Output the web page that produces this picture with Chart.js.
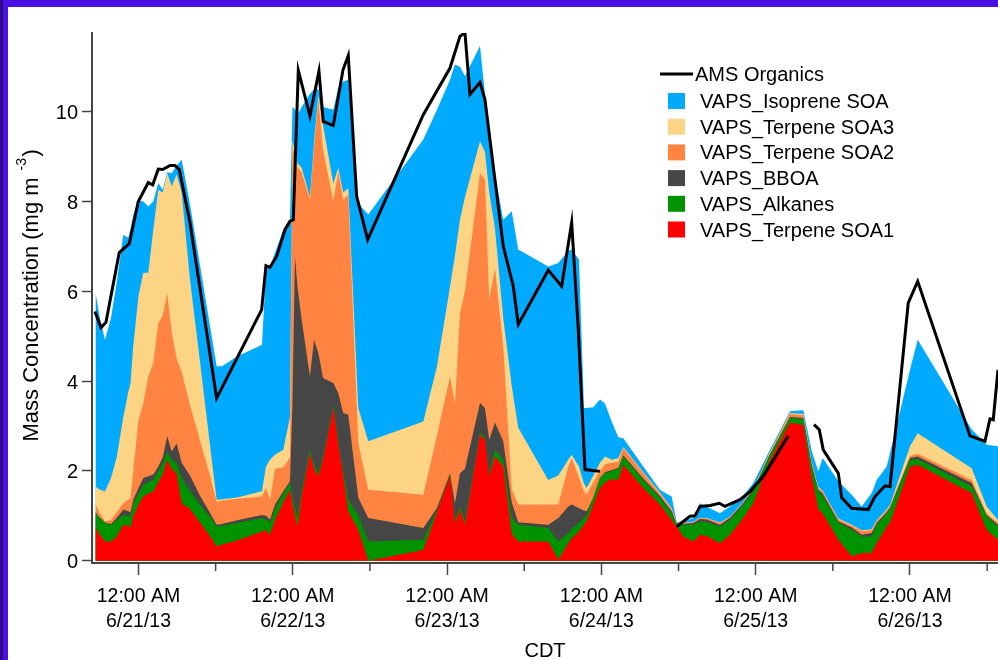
<!DOCTYPE html>
<html>
<head>
<meta charset="utf-8">
<title>VAPS vs AMS organics</title>
<script src="https://cdn.jsdelivr.net/npm/chart.js@4.4.1/dist/chart.umd.min.js"></script>
<style>
  html, body { margin: 0; padding: 0; background: #fff; overflow: hidden; }
  #wrap { position: relative; width: 998px; height: 660px; }
  #chart { position: absolute; left: 0; top: 0; }
  .frame-top { position: absolute; left: 0; top: 0; width: 998px; height: 7px; background: #4b10e2; }
  .frame-left { position: absolute; left: 0; top: 0; width: 8px; height: 660px;
    background: linear-gradient(to right, #2c0b8e 0, #2c0b8e 3px, #4b10e2 3px); }
</style>
</head>
<body>
<div id="wrap">
  <canvas id="chart" width="998" height="660"></canvas>
  <div class="frame-top"></div>
  <div class="frame-left"></div>
</div>
<script>
// hours since 12:00 AM 6/21/13 (CDT)
const hours = [-6.69, -5.99, -5.21, -4.28, -3.39, -2.36, -1.59, -1.24, -0.81, 0,
  0.75, 1.52, 2.30, 3.08, 3.76, 4.48, 5.16, 5.94, 6.72, 8.01,
  9.57, 11.12, 12.16, 12.99, 15.32, 19.21, 19.83, 20.45, 21.23, 22.52,
  23.56, 23.95, 24.34, 24.73, 25.38, 26.67, 27.30, 27.97, 28.70, 30.30,
  31.08, 31.85, 32.63, 34.19, 35.74, 44.30, 46.43, 48.45, 49.23, 50.01,
  50.78, 53.12, 53.89, 54.56, 55.45, 56.74, 58.05, 59.07, 63.74, 65.30,
  66.85, 67.38, 68.52, 69.29, 69.71, 70.74, 71.78, 72.56, 73.60, 74.63,
  75.41, 78.52, 81.11, 82.93, 83.71, 84.74, 86.29, 87.34, 88.38, 90.45,
  92.00, 93.82, 95.63, 98.22, 101.34, 103.40, 104.71, 105.74, 106.42, 108.85,
  110.93, 112.49, 114.04, 114.82, 116.37, 116.89, 120.00, 121.20, 129.60, 131.93,
  133.69]

const terpeneSOA1 = [.73, .58, .43, .43, .54, .80, .78, .73, .99, 1.25,
  1.43, 1.50, 1.54, 1.75, 1.92, 2.25, 2.05, 1.95, 1.28, 1.15,
  .85, .55, .32, .36, .45, .65, .68, .58, .91, 1.30,
  1.58, 1.25, 1.00, .76, 1.45, 2.40, 2.05, 1.88, 2.25, 3.40,
  2.60, 1.90, 1.10, .69, 0, .24, 1.08, 1.88, .84, 1.14,
  .80, 2.81, 2.70, 1.88, 2.32, 2.10, .60, .43, .43, .02,
  .39, .50, .65, .80, .88, 1.25, 1.62, 1.75, 1.82, 1.80,
  2.14, 1.62, 1.25, .90, .76, .54, .43, .58, .55, .39,
  .58, .91, 1.28, 2.25, 3.07, 3.03, 1.88, 1.15, 1.06, .47,
  .10, .17, .17, .39, .76, .85, 2.10, 2.14, 1.51, .69,
  .47]

const alkanes = [.34, .37, .41, .37, .36, .22, .22, .25, .29, .25,
  .26, .25, .26, .25, .23, .18, .20, .23, .57, .40,
  .40, .43, .44, .42, .39, .30, .24, .26, .24, .20,
  .15, .15, .15, .23, .10, .08, .07, .07, .07, .05,
  .08, .10, .26, .31, .43, .23, .04, .04, .06, .06,
  .10, .05, .05, .07, .15, .15, .35, .37, .30, .41,
  .22, .20, .19, .15, .14, .15, .22, .20, .18, .25,
  .18, .18, .15, .15, .06, .26, .37, .30, .31, .37,
  .33, .30, .27, .10, .10, .12, .22, .40, .40, .38,
  .59, .37, .37, .41, .29, .30, .15, .12, .15, .30,
  .29]

const bboa = [.01, .01, .01, .02, .05, .12, .10, .10, .08, .12,
  .15, .13, .12, .10, .15, .34, .18, .43, .33, .35,
  .20, .09, .04, .04, .06, .07, .08, .08, .10, .05,
  .04, 2.10, 5.63, 5.11, 3.82, 1.62, 2.80, 2.68, 1.75, .51,
  1.05, 1.29, 1.89, .40, .52, .26, .06, .03, .38, .75,
  1.15, .65, .65, .74, .61, .41, .35, .06, .07, .52,
  .60, .55, .33, .17, .08, 0, .01, .02, .02, .02,
  .03, .03, .04, .05, .01, .02, .04, .05, .06, .04,
  .04, .03, .03, .02, .03, .03, .03, .03, .04, .03,
  .05, .04, .08, .04, .03, .03, .04, .06, .07, .03,
  .04]

const terpeneSOA2 = [.17, .09, .03, .09, .13, .14, .26, .32, .64, 1.52,
  1.66, 2.22, 2.48, 3.19, 3.15, 3.18, 2.67, 1.89, 2.02, 1.57,
  1.23, .82, .52, .52, .48, .41, .62, .43, .80, .53,
  .53, 5.70, 2.22, 2.65, 3.28, 3.94, 4.28, 5.64, 5.08, 4.04,
  4.94, 4.75, 4.90, 1.22, .63, .74, 1.61, 2.15, 2.22, 3.57,
  3.95, 5.12, 5.09, 3.12, 3.44, 2.10, .30, .39, .45, .30,
  .89, 1.04, .68, .43, .37, .35, .15, .18, .16, .13,
  .16, .12, .06, .05, .01, .01, .02, .02, .02, .04,
  .02, .02, .02, .03, .07, .06, .04, .04, .04, .04,
  .04, .08, .06, .04, .04, .04, .04, .06, .07, .03,
  .04]

const terpeneSOA3 = [.40, .53, .66, .93, 1.22, 1.92, 2.39, 2.55, 2.80, 2.76,
  2.91, 2.31, 2.97, 2.97, 2.75, 2.68, 3.24, 4.10, 4.00, 2.80,
  1.75, .69, .04, .03, .03, .12, .48, .90, .31, .39,
  .90, .15, .15, .10, .10, .06, .10, .11, .55, .40,
  .08, .16, .15, .78, 1.08, 1.63, 1.54, 2.00, 3.30, 2.08,
  2.10, .71, .61, 2.39, .88, .64, 2.30, 1.71, .55, .65,
  .15, .07, .25, .17, .15, .15, .18, .17, .07, .08,
  .02, .02, .02, .02, .01, .01, .01, .01, .01, .01,
  .01, .01, .01, .02, .02, .03, .02, .02, .02, .02,
  .02, .02, .02, .02, .02, .02, .22, .46, .26, .16,
  .07]

const isopreneSOA = [4.32, 3.82, 3.38, 3.56, 3.90, 4.06, 3.44, 3.45, 2.90, 2.12,
  1.59, 1.48, .63, .15, .06, .02, .29, .20, .73, 1.67,
  2.15, 2.65, 2.97, 2.96, 3.14, 3.26, 4.38, 4.30, 4.49, 4.90,
  4.39, .75, .90, 1.08, 1.35, 2.30, 1.19, .12, .40, 1.64,
  1.78, 2.47, 2.41, 4.55, 5.05, 6.28, 5.71, 4.61, 4.25, 3.40,
  2.69, 2.12, 1.30, 1.18, 1.20, 2.19, 3.88, 3.97, 4.75, 4.73,
  4.65, 4.57, 4.60, 1.68, 1.78, 1.52, 1.41, 1.18, .85, .47,
  .20, .13, .06, .26, .01, .04, .08, .32, .25, .21,
  .23, .13, .12, .05, .04, .08, .26, .35, .73, .83,
  .67, .53, .81, .90, .96, 1.16, 1.70, 2.08, .86, 1.37,
  1.64]

// AMS runs on its own clock; null = no data
const amsHours = [-6.77, -5.83, -5.06, -2.99, -1.43, -0.03, 1.52, 2.21, 3.08, 3.76,
  4.90, 5.68, 6.35, 8.01, 12.16, 19.16, 19.83, 20.45, 21.50, 22.79,
  23.56, 24.08, 24.86, 26.67, 28.07, 28.74, 30.30, 31.81, 32.63, 33.94,
  35.65, 44.30, 48.45, 50.01, 50.78, 51.56, 53.12, 53.89, 56.74, 58.30,
  59.07, 63.74, 65.82, 67.38, 68.41, 69.45, 71.78, 72.5, 83.71, 85.78,
  86.56, 87.34, 88.89, 90.34, 91.22, 93.56, 95.11, 97.18, 101.07, 102.5,
  105.07, 105.89, 106.51, 108.85, 109.38, 110.93, 113.51, 114.55, 116.11, 116.89,
  119.73, 121.20, 129.33, 131.66, 132.44, 132.95, 133.69]
const amsOrganics = [5.55, 5.19, 5.31, 6.86, 7.06, 8.00, 8.42, 8.37, 8.72, 8.71,
  8.80, 8.80, 8.71, 7.53, 3.62, 5.59, 6.57, 6.53, 6.78, 7.37,
  7.56, 7.59, 10.92, 9.90, 10.90, 9.78, 9.69, 10.93, 11.25, 8.11,
  7.15, 9.93, 10.97, 11.68, 11.75, 10.38, 10.65, 10.27, 7.00, 6.11,
  5.26, 6.47, 6.11, 7.53, 5.14, 2.03, 1.99, null, 0.76, 0.99,
  1.00, 1.21, 1.23, 1.28, 1.21, 1.36, 1.54, 1.88, 2.78, null,
  3.03, 2.92, 2.47, 1.95, 1.40, 1.17, 1.14, 1.43, 1.67, 1.65,
  5.74, 6.22, 2.78, 2.66, 3.16, 3.14, 4.25]

const tickHours = [0, 12, 24, 36, 48, 60, 72, 84, 96, 108, 120, 132]
const dayLabels = ['6/21/13', '6/22/13', '6/23/13', '6/24/13', '6/25/13', '6/26/13']
const yTicks = [0, 2, 4, 6, 8, 10]

const FONT = '"Liberation Sans", Arial, Helvetica, sans-serif'
Chart.defaults.font.family = FONT
Chart.defaults.color = '#000'

// bottom of the stack first
const layers = [
  { label: 'VAPS_Terpene SOA1', values: terpeneSOA1, color: '#ff0000' },
  { label: 'VAPS_Alkanes', values: alkanes, color: '#009300' },
  { label: 'VAPS_BBOA', values: bboa, color: '#464646' },
  { label: 'VAPS_Terpene SOA2', values: terpeneSOA2, color: '#ff8442' },
  { label: 'VAPS_Terpene SOA3', values: terpeneSOA3, color: '#fdd384' },
  { label: 'VAPS_Isoprene SOA', values: isopreneSOA, color: '#00aaff' }
]

const points = (xs, ys) => xs.map((x, i) => ({ x: x, y: ys[i] }))

const datasets = layers.map(l => ({
  label: l.label,
  data: points(hours, l.values),
  backgroundColor: l.color,
  borderColor: 'rgba(0,0,0,0)',
  borderWidth: 0,
  fill: 'origin',
  pointRadius: 0,
  tension: 0,
  stack: 'vaps',
  order: 1
}))

datasets.push({
  label: 'AMS Organics',
  data: points(amsHours, amsOrganics),
  borderColor: '#000',
  borderWidth: 3,
  fill: false,
  pointRadius: 0,
  tension: 0,
  spanGaps: false,
  stack: 'ams',
  order: 0
})

const extras = {
  id: 'extras',
  afterDraw(chart) {
    const ctx = chart.ctx
    const xs = chart.scales.x
    ctx.save()

    // short ticks at noon
    ctx.strokeStyle = '#444'
    ctx.lineWidth = 1.5
    tickHours.filter(h => h % 24 !== 0).forEach(h => {
      const px = xs.getPixelForValue(h)
      ctx.beginPath()
      ctx.moveTo(px, xs.top)
      ctx.lineTo(px, xs.top + 8)
      ctx.stroke()
    })

    // y title with superscript
    ctx.save()
    ctx.translate(37.5, 441.5)
    ctx.rotate(-Math.PI / 2)
    ctx.fillStyle = '#000'
    ctx.textAlign = 'left'
    ctx.textBaseline = 'alphabetic'
    ctx.font = '22px ' + FONT
    const main = 'Mass Concentration (mg m'
    ctx.fillText(main, 0, 0)
    const w = ctx.measureText(main).width
    ctx.font = '14px ' + FONT
    ctx.fillText('-3', w + 7, -12)
    ctx.font = '22px ' + FONT
    ctx.fillText(')', w + 21, 0)
    ctx.restore()

    // legend
    ctx.font = '20px ' + FONT
    ctx.textBaseline = 'middle'
    ctx.textAlign = 'left'
    ctx.strokeStyle = '#000'
    ctx.lineWidth = 3
    ctx.beginPath()
    ctx.moveTo(660, 74)
    ctx.lineTo(693, 74)
    ctx.stroke()
    ctx.fillStyle = '#000'
    ctx.fillText('AMS Organics', 695, 75)
    layers.slice().reverse().forEach((l, i) => {
      const top = 93 + i * 25.7
      ctx.fillStyle = l.color
      ctx.fillRect(668, top, 17, 16)
      ctx.fillStyle = '#000'
      ctx.fillText(l.label, 700, top + 9.5)
    })
    ctx.restore()
  }
}

new Chart('chart', {
  type: 'line',
  data: { datasets: datasets },
  options: {
    responsive: false,
    animation: false,
    events: [],
    layout: { padding: { top: 33, left: 0, right: 0, bottom: 0 } },
    plugins: { legend: { display: false }, tooltip: { enabled: false } },
    scales: {
      x: {
        type: 'linear',
        bounds: 'data',
        min: -7.23,
        max: 133.69,
        afterBuildTicks: s => { s.ticks = tickHours.map(v => ({ value: v })) },
        afterFit: s => { s.height = 97 },
        ticks: {
          autoSkip: false,
          maxRotation: 0,
          padding: 9.5,
          color: '#000',
          font: { size: 19.5, lineHeight: 1.282 },
          callback: v => v % 24 === 0 ? ['12:00 AM', dayLabels[v / 24]] : ''
        },
        grid: {
          drawOnChartArea: false,
          tickLength: 12,
          tickWidth: 1.5,
          tickColor: c => (c.tick && c.tick.value % 24 === 0) ? '#444' : 'rgba(0,0,0,0)'
        },
        border: { color: '#444', width: 2 },
        title: {
          display: true,
          text: 'CDT',
          color: '#000',
          font: { size: 20, lineHeight: 1 },
          padding: { top: 0, bottom: -1 }
        }
      },
      y: {
        stacked: true,
        bounds: 'data',
        min: -0.05,
        max: 11.75,
        afterBuildTicks: s => { s.ticks = yTicks.map(v => ({ value: v })) },
        afterFit: s => { s.width = 92 },
        ticks: { padding: 4, labelOffset: 2, color: '#000', font: { size: 20 } },
        grid: { drawOnChartArea: false, tickLength: 10, tickWidth: 1.5, tickColor: '#444' },
        border: { color: '#444', width: 2 }
      }
    }
  },
  plugins: [extras]
})
</script>
</body>
</html>
